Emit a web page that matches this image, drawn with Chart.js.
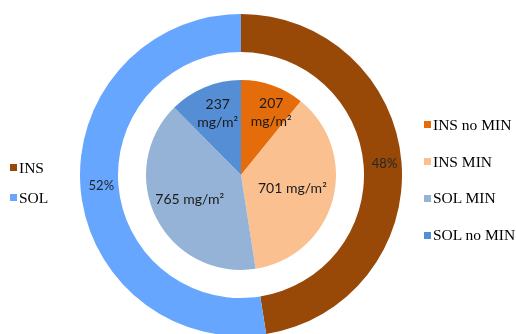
<!DOCTYPE html>
<html>
<head>
<meta charset="utf-8">
<script src="https://cdn.jsdelivr.net/npm/chart.js@4.4.1/dist/chart.umd.min.js"></script>
<style>
    body { margin: 0; background: #fff; }
    #wrap { position: relative; width: 516px; height: 334px; overflow: hidden; background: #fff; }
    canvas { position: absolute; left: 0; top: 0; }
    .item {
        position: absolute; height: 18px; display: flex; align-items: center; white-space: nowrap;
        font-family: "Liberation Serif", "Times New Roman", serif; font-size: 15.5px; color: #000;
    }
    .item span { display: inline-block; width: 7px; height: 7px; margin-right: 2px; }
</style>
</head>
<body>
<div id="wrap">
    <canvas id="ring" width="516" height="334"></canvas>
    <canvas id="pie" width="516" height="334"></canvas>
</div>
<script>
// outer ring: share of total
const ringLabels = ['INS', 'SOL'];
const ringValues = [47.5, 52.5];
const ringText = ['48%', '52%'];

// inner pie: mg/m2
const pieLabels = ['INS no MIN', 'INS MIN', 'SOL MIN', 'SOL no MIN'];
const pieValues = [207, 701, 765, 237];

const ringColors = ['#984807', '#66a6ff'];
const pieColors = ['#e46c0a', '#fac090', '#95b3d7', '#558ed5'];

// label layout (style, not data)
const pieWrap = [true, false, false, true];
const pieLabelRadius = [0.7, 0.56, 0.58, 0.7];
const pieShift = [8, 0, -2, 2];

const sliceLabels = {
    id: 'sliceLabels',
    afterDatasetsDraw(chart, args, opts) {
        const ctx = chart.ctx;
        const arcs = chart.getDatasetMeta(0).data;
        ctx.save();
        ctx.font = opts.font;
        ctx.fillStyle = opts.color;
        ctx.textAlign = 'center';
        ctx.textBaseline = 'middle';
        arcs.forEach((arc, i) => {
            const p = arc.getProps(['x', 'y', 'startAngle', 'endAngle', 'innerRadius', 'outerRadius']);
            const mid = (p.startAngle + p.endAngle) / 2;
            const r = p.innerRadius + (p.outerRadius - p.innerRadius) * opts.radius[i];
            const lines = opts.lines[i];
            const cx = p.x + Math.cos(mid) * r + opts.shift[i];
            const cy = p.y + Math.sin(mid) * r;
            lines.forEach((t, k) => {
                ctx.fillText(t, cx, cy + (k - (lines.length - 1) / 2) * opts.lineHeight);
            });
        });
        ctx.restore();
    }
};

const baseOptions = {
    responsive: false,
    animation: false,
    layout: { padding: { top: 16, right: 34, left: 0, bottom: 0 } },
    plugins: { legend: { display: false }, tooltip: { enabled: false } }
};

new Chart(document.getElementById('ring').getContext('2d'), {
    type: 'doughnut',
    data: {
        labels: ringLabels,
        datasets: [{ data: ringValues, backgroundColor: ringColors, borderWidth: 0, clip: false }]
    },
    options: {
        ...baseOptions,
        radius: 161,
        cutout: '76.4%',
        plugins: {
            ...baseOptions.plugins,
            sliceLabels: {
                font: '13px Lato', color: '#262626', lineHeight: 18,
                lines: ringText.map(t => [t]), radius: [0.5, 0.45], shift: [2, 0]
            }
        }
    },
    plugins: [sliceLabels]
});

new Chart(document.getElementById('pie').getContext('2d'), {
    type: 'pie',
    data: {
        labels: pieLabels,
        datasets: [{ data: pieValues, backgroundColor: pieColors, borderWidth: 0, clip: false }]
    },
    options: {
        ...baseOptions,
        radius: 95,
        plugins: {
            ...baseOptions.plugins,
            sliceLabels: {
                font: '14px Lato', color: '#1a1a1a', lineHeight: 18,
                lines: pieValues.map((v, i) => pieWrap[i] ? [String(v), 'mg/m²'] : [v + ' mg/m²']),
                radius: pieLabelRadius, shift: pieShift
            }
        }
    },
    plugins: [sliceLabels]
});

// legends as html
function addLegend(labels, colors, left, tops) {
    const wrap = document.getElementById('wrap');
    labels.forEach((lab, i) => {
        const el = document.createElement('div');
        el.className = 'item';
        el.style.left = left + 'px';
        el.style.top = (tops[i] - 9) + 'px';
        const sw = document.createElement('span');
        sw.style.background = colors[i];
        el.appendChild(sw);
        el.appendChild(document.createTextNode(lab));
        wrap.appendChild(el);
    });
}

addLegend(ringLabels, ringColors, 10, [167.5, 197.5]);
addLegend(pieLabels, pieColors, 424, [124.5, 161.5, 198, 235]);
</script>
</body>
</html>
